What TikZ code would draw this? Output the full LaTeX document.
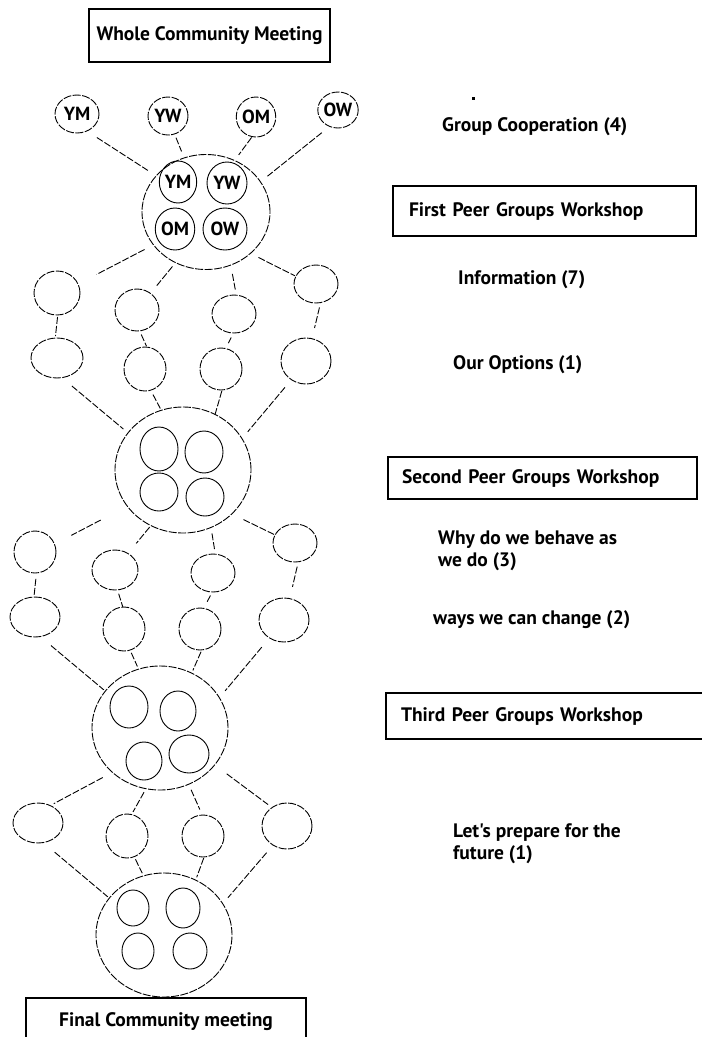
\documentclass[tikz,border=0pt]{standalone}
\usepackage{fontspec}
\newfontfamily\ptsans{PT Sans}
\usetikzlibrary{shapes.geometric}
\begin{document}
\begin{tikzpicture}[x=1pt,y=-1pt,
  el/.style={ellipse,draw,inner sep=0pt,outer sep=0pt,line width=0.9pt},
  dsh/.style={dash pattern=on 8pt off 1.5pt},
  sz/.style 2 args={minimum width=#1*2,minimum height=#2*2},
  conn/.style={line width=0.9pt,dash pattern=on 7pt off 2pt},
  box/.style={draw,rectangle,line width=1.3pt,inner sep=0pt,outer sep=0pt},
  txt/.style={font=\ptsans\bfseries\fontsize{19.5}{22}\selectfont},
  circ/.style={font=\ptsans\bfseries\fontsize{19}{19}\selectfont},
  lbl/.style={txt,inner sep=0pt,anchor=west,align=left}]
\useasboundingbox (0,0) rectangle (702,1037);
\clip (0,0) rectangle (702,1037);

% boxes
\node[box,txt,minimum width=241,minimum height=53] (b0) at (209.5,35.5) {Whole Community Meeting};
\node[box,txt,minimum width=303,minimum height=50,inner xsep=16pt,text width=271pt,align=left] (b1) at (544.5,211) {First Peer Groups Workshop};
\node[box,txt,minimum width=309,minimum height=42,inner xsep=14pt,text width=281pt,align=left] (b2) at (542.5,478) {Second Peer Groups Workshop};
\node[box,txt,minimum width=344,minimum height=46,inner xsep=15pt,text width=314pt,align=left] (b3) at (558,716) {Third Peer Groups Workshop};
\node[box,txt,minimum width=280,minimum height=47] (b4) at (166,1021.5) {Final Community meeting};

% free texts
\fill (472,97) rectangle (475,99.5);
\node[lbl] (g1) at (442,127) {Group Cooperation (4)};
\node[lbl] (g2) at (458,280) {Information (7)};
\node[lbl] (g3) at (453,365) {Our Options (1)};
\node[lbl] (g4) at (438,551) {Why do we behave as\\we do (3)};
\node[lbl] (g5) at (433,620) {ways we can change (2)};
\node[lbl] (g6) at (453,844) {Let's prepare for the\\future (1)};

% top row
\node[el,dsh,circ,sz={22}{19}] (t1) at (77,114) {YM};
\node[el,dsh,circ,sz={20}{19}] (t2) at (168,116) {YW};
\node[el,dsh,circ,sz={19}{20}] (t3) at (256,117) {OM};
\node[el,dsh,circ,sz={20}{18}] (t4) at (338,110) {OW};

% big circle 1
\node[el,dsh,sz={64}{57.5}] (big1) at (206,212) {};
\node[el,circ,sz={18.5}{21}] (i1a) at (178,182) {YM};
\node[el,circ,sz={20}{21}] (i1b) at (227,183) {YW};
\node[el,circ,sz={18}{21}] (i1c) at (175,229) {OM};
\node[el,circ,sz={22}{21}] (i1d) at (225,229) {OW};

% row 2
\node[el,dsh,sz={23}{22}] (a1) at (57,293) {};
\node[el,dsh,sz={22}{21}] (c1b) at (137,310) {};
\node[el,dsh,sz={22}{19}] (c1) at (234,314) {};
\node[el,dsh,sz={22}{19}] (d1) at (316,284) {};
% row 3
\node[el,dsh,sz={26}{20}] (a2) at (57,358) {};
\node[el,dsh,sz={21}{22}] (b2n) at (145,369) {};
\node[el,dsh,sz={21}{21}] (c2) at (221,369) {};
\node[el,dsh,sz={25}{23}] (d2) at (306,361) {};

% big circle 2
\node[el,dsh,sz={68}{63}] (big2) at (183,470) {};
\node[el,sz={19}{22}] (i2a) at (159,449) {};
\node[el,sz={19}{21}] (i2b) at (204,452) {};
\node[el,sz={19}{19}] (i2c) at (159,492) {};
\node[el,sz={19}{19}] (i2d) at (205,497) {};

% row 4
\node[el,dsh,sz={21}{21}] (a3) at (35,552) {};
\node[el,dsh,sz={23}{20}] (b3n) at (115,570) {};
\node[el,dsh,sz={22}{19}] (c3) at (213,573) {};
\node[el,dsh,sz={22}{19}] (d3) at (295,543) {};
% row 5
\node[el,dsh,sz={25}{20}] (a4) at (35,617) {};
\node[el,dsh,sz={21}{22}] (b4n) at (124,629) {};
\node[el,dsh,sz={21}{21}] (c4) at (200,629) {};
\node[el,dsh,sz={25}{22}] (d4) at (284,620) {};

% big circle 3
\node[el,dsh,sz={68}{62}] (big3) at (160,728) {};
\node[el,sz={19}{21}] (i3a) at (129,707) {};
\node[el,sz={18}{20}] (i3b) at (178,711) {};
\node[el,sz={18}{19}] (i3c) at (144,761) {};
\node[el,sz={20}{19}] (i3d) at (189,754) {};

% row 6
\node[el,dsh,sz={25}{20}] (a5) at (38,823) {};
\node[el,dsh,sz={21}{22}] (b5n) at (127,836) {};
\node[el,dsh,sz={21}{21}] (c5) at (203,836) {};
\node[el,dsh,sz={25}{23}] (d5) at (287,826) {};

% big circle 4
\node[el,dsh,sz={68}{62}] (big4) at (164,935) {};
\node[el,sz={16}{18}] (i4a) at (133,908) {};
\node[el,sz={17}{20}] (i4b) at (183,908) {};
\node[el,sz={16}{18}] (i4c) at (138,951) {};
\node[el,sz={17}{18}] (i4d) at (190,951) {};

% connectors
\draw[conn,shorten <=12pt,shorten >=10pt] (t1.-60) -- (big1.144);
\draw[conn,shorten <=4pt,shorten >=7pt] (t2.-70) -- (big1.112);
\draw[conn,shorten <=1pt,shorten >=7pt] (t3.-101) -- (big1.61);
\draw[conn,shorten <=10pt,shorten >=9pt] (t4.-117) -- (big1.29);

\draw[conn,shorten <=10pt,shorten >=21pt] (big1.-148) -- (a1.23);
\draw[conn,shorten <=5pt,shorten >=10pt] (big1.-121) -- (c1b.51);
\draw[conn,shorten <=9pt,shorten >=4pt] (big1.-65) -- (c1.83);
\draw[conn,shorten <=9pt,shorten >=1pt] (big1.-43) -- (d1.159);

\draw[conn,shorten <=2pt,shorten >=2pt] (a1.-88) -- (a2.95);
\draw[conn,shorten <=4pt,shorten >=1pt] (c1b.-83) -- (b2n.85);
\draw[conn,shorten <=5pt,shorten >=6pt] (c1.-92) -- (c2.77);
\draw[conn,shorten <=5pt,shorten >=11pt] (d1.-76) -- (d2.75);

\draw[conn,shorten <=13pt,shorten >=6pt] (a2.-76) -- (big2.146);
\draw[conn,shorten <=5pt,shorten >=2pt] (b2n.-75) -- (big2.110);
\draw[conn,shorten <=1pt] (c2.-87) -- (big2.60);
\draw[conn,shorten <=10pt,shorten >=9pt] (d2.-128) -- (big2.28);

\draw[conn,shorten <=30pt,shorten >=19pt] (big2.-147) -- (a3.22);
\draw[conn,shorten <=2pt,shorten >=13pt] (big2.-120) -- (b3n.52);
\draw[conn,shorten <=6pt,shorten >=5pt] (big2.-64) -- (c3.83);
\draw[conn,shorten <=13pt] (big2.-42) -- (d3.158);

\draw[conn,shorten <=6pt] (a3.-86) -- (a4.93);
\draw[conn,shorten <=4pt] (b3n.-83) -- (b4n.93);
\draw[conn,shorten <=4pt,shorten >=6pt] (c3.-92) -- (c4.80);
\draw[conn,shorten <=5pt,shorten >=12pt] (d3.-80) -- (d4.75);

\draw[conn,shorten <=14pt,shorten >=2pt] (a4.-75) -- (big3.146);
\draw[conn,shorten <=3pt,shorten >=3pt] (b4n.-74) -- (big3.110);
\draw[conn,shorten <=2pt,shorten >=3pt] (c4.-85) -- (big3.60);
\draw[conn,shorten <=12pt,shorten >=9pt] (d4.-129) -- (big3.27);

\draw[conn,shorten <=11pt,shorten >=4pt] (big3.-137) -- (a5.55);
\draw[conn,shorten <=4pt,shorten >=3pt] (big3.-103) -- (b5n.78);
\draw[conn,shorten <=6pt,shorten >=6pt] (big3.-63) -- (c5.92);
\draw[conn,shorten <=15pt,shorten >=5pt] (big3.-34) -- (d5.129);

\draw[conn,shorten <=15pt,shorten >=2pt] (a5.-75) -- (big4.146);
\draw[conn,shorten <=3pt,shorten >=3pt] (b5n.-71) -- (big4.109);
\draw[conn,shorten <=1pt,shorten >=3pt] (c5.-87) -- (big4.60);
\draw[conn,shorten <=10pt,shorten >=8pt] (d5.-126) -- (big4.28);
\end{tikzpicture}
\end{document}
